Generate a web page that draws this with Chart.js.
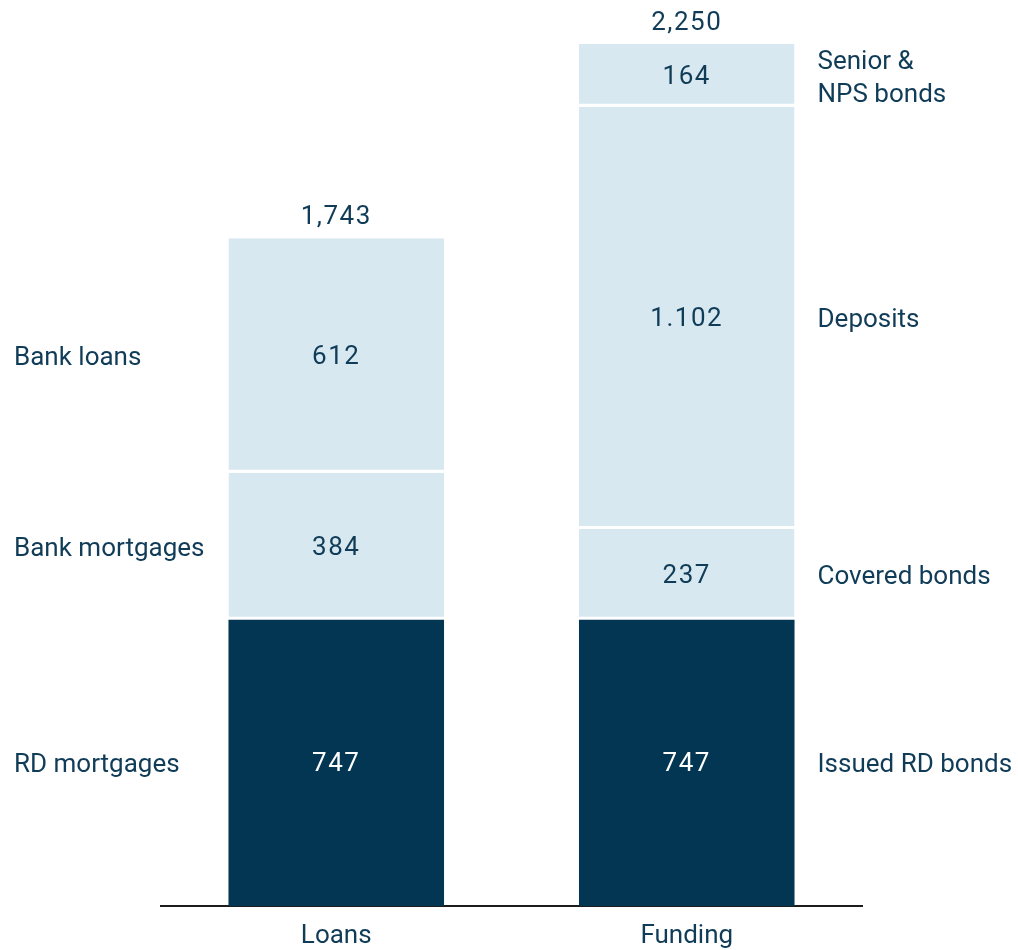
<!DOCTYPE html>
<html>
<head>
<meta charset="utf-8">
<script src="https://cdn.jsdelivr.net/npm/chart.js@4.4.0/dist/chart.umd.min.js"></script>
<style>
  html, body { margin: 0; padding: 0; background: #fff; }
  #wrap { width: 1018px; height: 950px; }
</style>
</head>
<body>
<div id="wrap"><canvas id="myChart" width="1018" height="950"></canvas></div>
<script>
const categories = ['Loans', 'Funding'];

// stack levels from the bottom up: [Loans, Funding]
const level1 = [747, 747];
const level2 = [384, 237];
const level3 = [612, 1102];
const level4 = [null, 164];

const loanNames = ['RD mortgages', 'Bank mortgages', 'Bank loans'];
const fundingNames = ['Issued RD bonds', 'Covered bonds', 'Deposits', ['Senior &', 'NPS bonds']];

const dark = '#023652';
const light = '#d7e8f0';
const textColor = '#103c58';
const fontFamily = 'Roboto, "DejaVu Sans", sans-serif';
const fontSize = 26;

// white gap under every segment except the bottom one
function segment(values, color, gap) {
    return {
        data: values,
        backgroundColor: color,
        borderColor: '#ffffff',
        borderWidth: { top: 0, left: 0, right: 0, bottom: gap },
        borderSkipped: false,
        categoryPercentage: 1,
        barPercentage: 0.615
    };
}

// value labels, totals and the row names beside each bar
const barLabels = {
    id: 'barLabels',
    afterDatasetsDraw(chart) {
        const ctx = chart.ctx;
        ctx.save();
        ctx.font = fontSize + 'px ' + fontFamily;
        ctx.textBaseline = 'middle';

        const totals = [0, 0];
        chart.data.datasets.forEach((ds, di) => {
            const meta = chart.getDatasetMeta(di);
            meta.data.forEach((bar, i) => {
                const v = ds.data[i];
                if (v == null) return;
                totals[i] += v;
                const yMid = (bar.y + bar.base) / 2;
                ctx.textAlign = 'center';
                ctx.fillStyle = di === 0 ? '#ffffff' : textColor;
                ctx.letterSpacing = '1.5px';
                ctx.fillText(v.toLocaleString('da-DK'), bar.x, yMid + 2);
                ctx.letterSpacing = '0px';

                ctx.fillStyle = textColor;
                ctx.textAlign = 'left';
                if (i === 0) {
                    ctx.fillText(loanNames[di], 14, yMid + 3);
                } else {
                    const name = fundingNames[di];
                    const x = bar.x + bar.width / 2 + 23;
                    if (Array.isArray(name)) {
                        ctx.fillText(name[0], x, yMid - 13);
                        ctx.fillText(name[1], x, yMid + 20);
                    } else {
                        ctx.fillText(name, x, yMid + 3);
                    }
                }
            });
        });

        const meta0 = chart.getDatasetMeta(0);
        const yScale = chart.scales.y;
        ctx.textAlign = 'center';
        ctx.fillStyle = textColor;
        ctx.letterSpacing = '1.5px';
        totals.forEach((t, i) => {
            const x = meta0.data[i].x;
            ctx.fillText(t.toLocaleString('en-US'), x, yScale.getPixelForValue(t) - 21);
        });
        ctx.restore();
    }
};

new Chart(document.getElementById('myChart'), {
    type: 'bar',
    data: {
        labels: categories,
        datasets: [
            segment(level1, dark, 0),
            segment(level2, light, 3),
            segment(level3, light, 3),
            segment(level4, light, 3)
        ]
    },
    options: {
        responsive: false,
        animation: false,
        layout: { padding: { top: 44, left: 161, right: 156, bottom: 0 } },
        plugins: {
            legend: { display: false },
            tooltip: { enabled: false }
        },
        scales: {
            x: {
                stacked: true,
                grid: { display: false, drawTicks: false },
                border: { display: true, color: '#1c1c1c', width: 2 },
                ticks: {
                    color: textColor,
                    font: { family: fontFamily, size: fontSize },
                    padding: 15
                },
                afterFit(scale) { scale.height = 44; }
            },
            y: {
                stacked: true,
                display: false,
                min: 0,
                max: 2250
            }
        }
    },
    plugins: [barLabels]
});
</script>
</body>
</html>
